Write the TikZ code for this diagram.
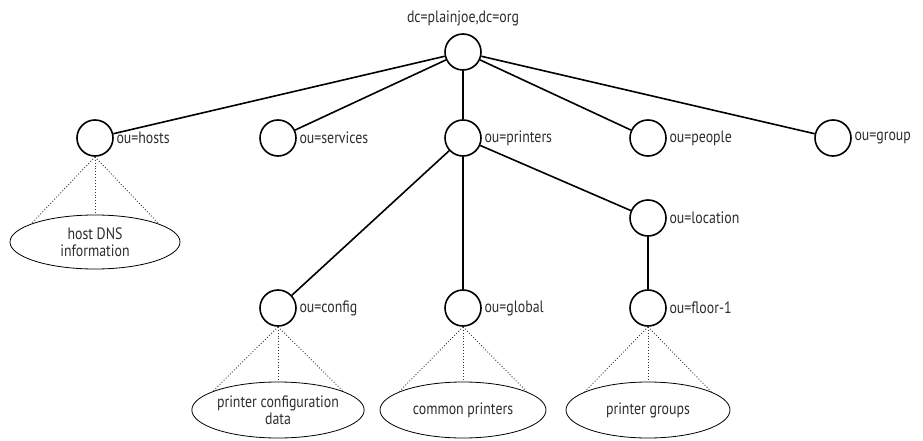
\documentclass[tikz,border=0pt]{standalone}
\usepackage{fontspec}
\setmainfont{PT Sans}[FakeStretch=0.84]
\usetikzlibrary{shapes.geometric}
\definecolor{txt}{RGB}{45,45,45}
\begin{document}
\begin{tikzpicture}[x=1pt,y=-1pt,
  ent/.style={circle,draw,line width=1.6pt,minimum size=36pt,inner sep=0pt},
  lab/.style={font=\fontsize{16.5}{18}\selectfont,text=txt,inner sep=0pt},
  leaf/.style={ellipse,draw,line width=0.8pt,minimum width=170pt,minimum height=54pt,inner sep=0pt,align=center,font=\fontsize{16.5}{17}\selectfont,text=txt},
  tree/.style={line width=1.6pt},
  dots/.style={dotted,line width=0.9pt,draw=black!80}]
\useasboundingbox (0,0) rectangle (923,441);
% entries
\node[ent] (root) at (463,52) {};
\node[lab,anchor=south] (rootl) at ([yshift=7pt]root.north) {dc=plainjoe,dc=org};
\node[ent] (hosts) at (95,138) {};
\node[ent] (services) at (278,138) {};
\node[ent] (printers) at (463,138) {};
\node[ent] (people) at (648,138) {};
\node[ent] (group) at (833,138) {};
\node[ent] (location) at (648,218) {};
\node[ent] (config) at (278,308) {};
\node[ent] (global) at (463,308) {};
\node[ent] (floor) at (648,308) {};
% labels
\foreach \n/\t in {hosts/ou=hosts,services/ou=services,printers/ou=printers,people/ou=people,group/ou=group,location/ou=location,config/ou=config,global/ou=global,floor/ou=floor-1}
  \node[lab,anchor=west] (\n l) at ([xshift=2.5pt]\n.east) {\t};
% tree edges
\foreach \c in {hosts,services,printers,people,group}
  \draw[tree] (root) -- (\c);
\foreach \c in {config,global,location}
  \draw[tree] (printers) -- (\c);
\draw[tree] (location) -- (floor);
% leaves
\node[leaf] (hostsE) at (95,242) {host DNS\\information};
\node[leaf,minimum width=172pt,minimum height=56pt] (configE) at (278,410) {printer configuration\\data};
\node[leaf,minimum width=166pt,minimum height=56pt] (globalE) at (463,410) {common printers};
\node[leaf,minimum width=164pt,minimum height=56pt] (floorE) at (648,410) {printer groups};
\foreach \p/\e in {hosts/hostsE,config/configE,global/globalE,floor/floorE}{
  \draw[dots] (\p.south) -- (\e.164);
  \draw[dots] (\p.south) -- (\e.north);
  \draw[dots] (\p.south) -- (\e.16);
}
\end{tikzpicture}
\end{document}
